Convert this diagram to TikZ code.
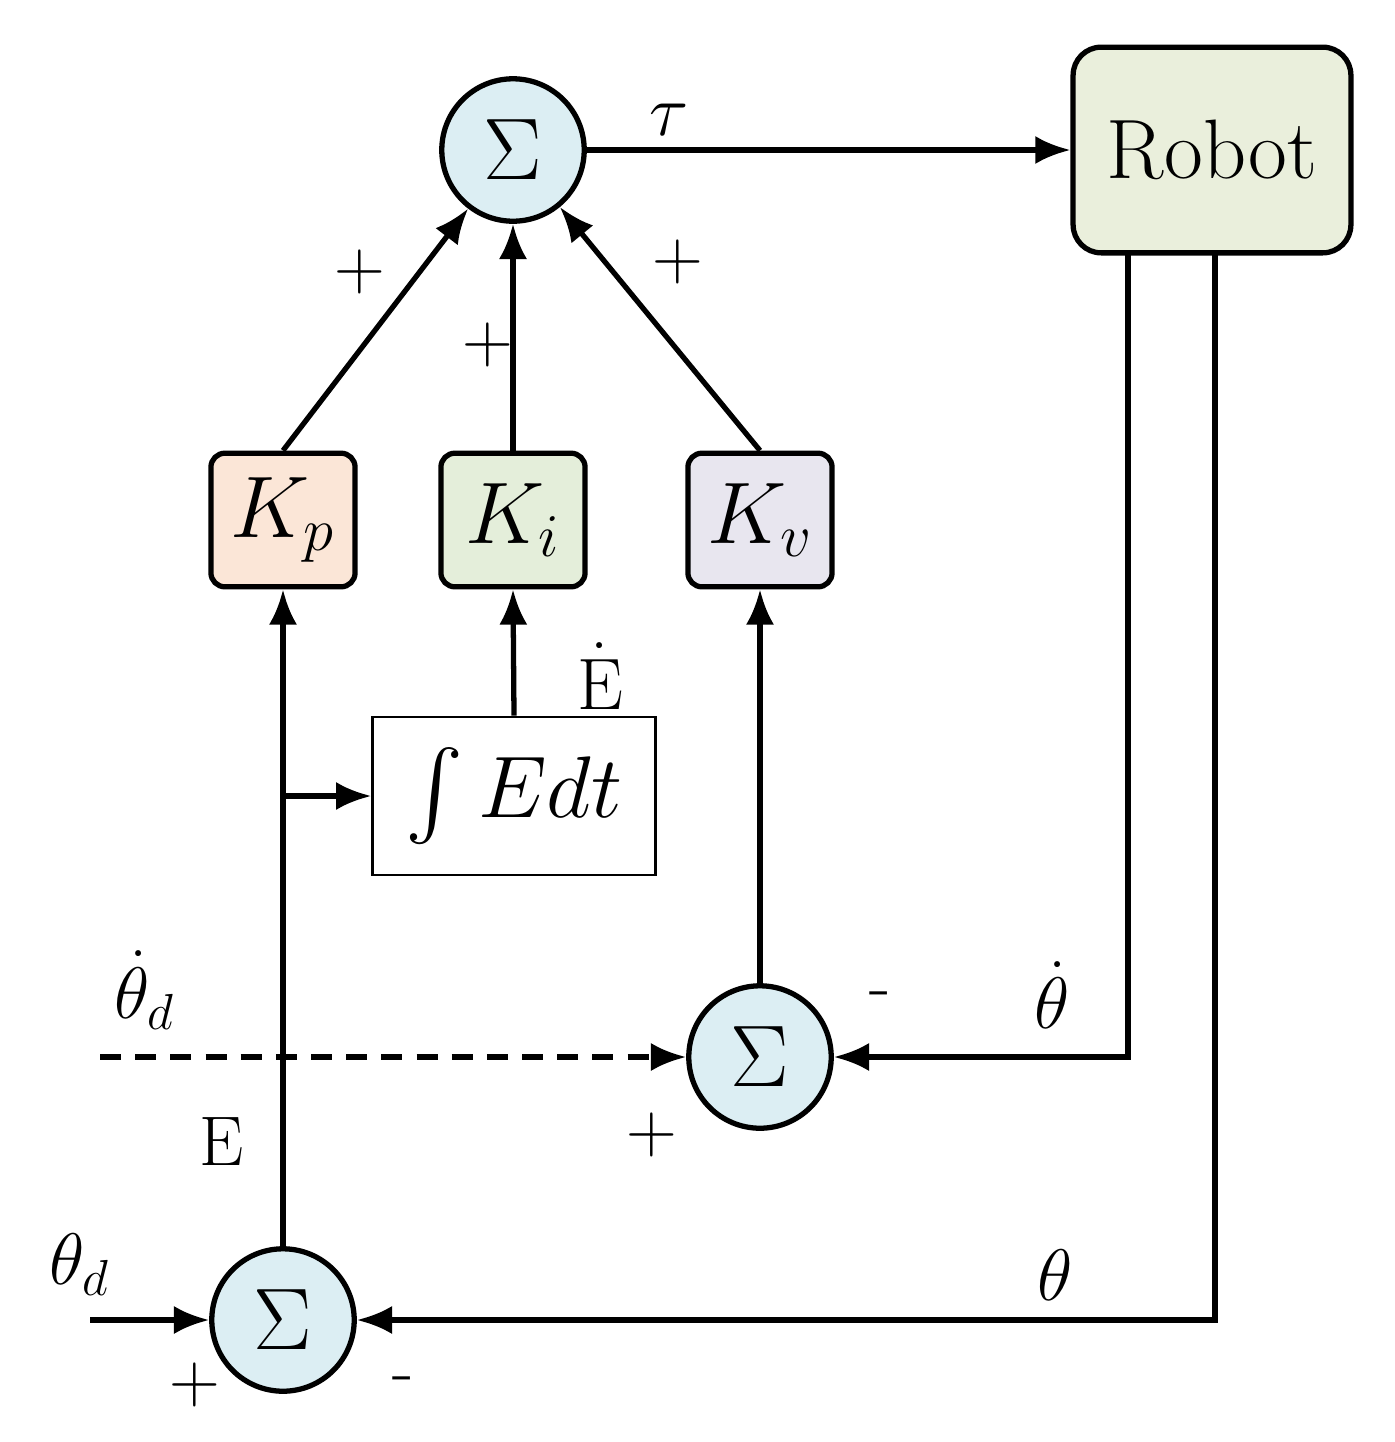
\documentclass[tikz,border=0pt]{standalone}
\usepackage{amsmath}
\usetikzlibrary{arrows.meta}
\begin{document}
\begin{tikzpicture}[x=0.01cm,y=-0.01cm,
  ln/.style={line width=1.5pt,-{Latex[length=10pt,width=8pt]}},
  sum/.style={circle,draw,line width=1.5pt,fill=sumc,minimum size=40.5pt,inner sep=0pt,font=\fontsize{30}{30}\selectfont},
  gain/.style={draw,line width=1.5pt,rounded corners=4pt,minimum width=41pt,minimum height=38pt,inner sep=0pt,font=\fontsize{24}{24}\selectfont},
  lab/.style={font=\fontsize{20}{20}\selectfont}]
\definecolor{sumc}{HTML}{DCEEF3}
\definecolor{kpc}{HTML}{FBE6D7}
\definecolor{kic}{HTML}{E4EEDA}
\definecolor{kvc}{HTML}{E8E6EF}
\definecolor{robc}{HTML}{EAEFDC}
\useasboundingbox (0,0) rectangle (1395,1442);
\node[sum] (s1) at (513,150) {$\Sigma$};
\node[sum] (s2) at (760,1057) {$\Sigma$};
\node[sum] (s3) at (283,1320) {$\Sigma$};
\node[draw,line width=1.5pt,rounded corners=8pt,fill=robc,minimum width=79pt,minimum height=58.5pt,font=\fontsize{24}{24}\selectfont] (rob) at (1212,150) {Robot};
\node[gain,fill=kpc] (kp) at (283,520) {$K_p$};
\node[gain,fill=kic] (ki) at (513,520) {$K_i$};
\node[gain,fill=kvc] (kv) at (760,520) {$K_v$};
\node[draw,line width=0.7pt,minimum width=80.5pt,minimum height=45pt,inner sep=0pt,font=\fontsize{30}{30}\selectfont] (int) at (514,796) {$\int Edt$};
\draw[ln] (s1) -- node[above,lab,pos=0.17]{$\tau$} (rob);
\draw[ln] (kp.north) -- (s1);
\draw[ln] (ki.north) -- (s1);
\draw[ln] (kv.north) -- (s1);
\draw[ln] (s3.north) -- (kp.south);
\coordinate (br) at (283,796);
\draw[ln] (br) -- (int.west);
\draw[ln] (int.north) -- (ki.south);
\draw[ln] (s2.north) -- (kv.south);
\coordinate (r1) at (1128,253);
\coordinate (r2) at (1215,253);
\draw[ln] (r1) |- (s2.east);
\draw[ln] (r2) |- (s3.east);
\coordinate (dd) at (100,1057);
\draw[ln,dash pattern=on 6pt off 4pt] (dd) -- (s2.west);
\coordinate (td) at (90,1320);
\draw[ln] (td) -- (s3.west);
\node[lab] at (360,272) {+};
\node[lab] at (488,345) {+};
\node[lab] at (678,262) {+};
\node[lab] at (600,676) {$\dot{\mathrm{E}}$};
\node[lab] at (145,990) {$\dot\theta_d$};
\node[lab] at (880,1000) {-};
\node[lab] at (1052,995) {$\dot{\mathrm{\theta}}$};
\node[lab] at (652,1135) {+};
\node[lab] at (222,1142) {E};
\node[lab] at (80,1265) {$\theta_d$};
\node[lab] at (1055,1275) {$\theta$};
\node[lab] at (195,1385) {+};
\node[lab] at (403,1385) {-};
\end{tikzpicture}
\end{document}
